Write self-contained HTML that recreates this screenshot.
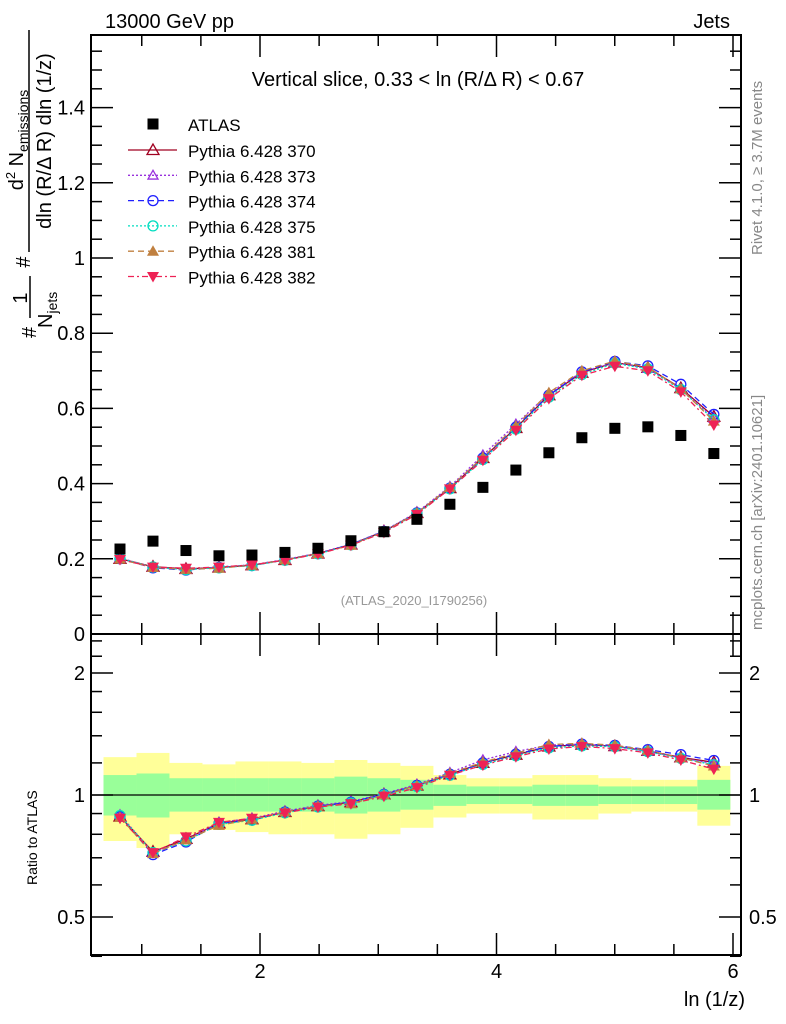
<!DOCTYPE html>
<html><head><meta charset="utf-8"><style>
html,body{margin:0;padding:0;background:#fff;}
svg{display:block;font-family:"Liberation Sans",sans-serif;}
</style></head><body>
<svg id="c" width="786" height="1024" viewBox="0 0 786 1024">
<text x="105" y="28" font-size="20">13000 GeV pp</text>
<text x="730" y="28" font-size="20" text-anchor="end">Jets</text>
<text x="418" y="86" font-size="20" text-anchor="middle">Vertical slice, 0.33 &lt; ln (R/Δ R) &lt; 0.67</text>
<text x="414" y="605" font-size="13" fill="#999" text-anchor="middle">(ATLAS_2020_I1790256)</text>
<text transform="translate(762,255) rotate(-90)" font-size="15" fill="#888">Rivet 4.1.0, ≥ 3.7M events</text>
<text transform="translate(762,630) rotate(-90)" font-size="15" fill="#888">mcplots.cern.ch [arXiv:2401.10621]</text>
<g transform="rotate(-90)" font-size="20">
<text x="-140" y="23" text-anchor="middle">d<tspan font-size="13" dy="-8">2</tspan><tspan dy="8"> N</tspan><tspan font-size="14" dy="5">emissions</tspan></text>
<line x1="-252" x2="-30" y1="29" y2="29" stroke="#000" stroke-width="1.5"/>
<text x="-141" y="51" text-anchor="middle">dln (R/Δ R) dln (1/z)</text>
<text x="-262" y="30" text-anchor="middle">#</text>
<text x="-298" y="27" text-anchor="middle">1</text>
<line x1="-318" x2="-276" y1="30" y2="30" stroke="#000" stroke-width="1.5"/>
<text x="-328" y="52">N<tspan font-size="14" dy="5">jets</tspan></text>
<text x="-338" y="36">#</text>
</g>
<text transform="translate(37,885) rotate(-90)" font-size="14">Ratio to ATLAS</text>
<text x="745" y="1006" font-size="20" text-anchor="end">ln (1/z)</text>
<g id="bands"></g><g id="series"></g><g id="axes"></g><g id="legend"></g>
</svg>
<script>
const xCenters=[0.816,1.095,1.374,1.653,1.932,2.211,2.490,2.769,3.048,3.327,3.606,3.885,4.164,4.443,4.722,5.001,5.280,5.559,5.838];
const atlas=[0.226,0.247,0.222,0.208,0.21,0.217,0.228,0.248,0.272,0.305,0.345,0.39,0.436,0.482,0.522,0.547,0.551,0.528,0.48];
const p370=[0.2,0.179,0.173,0.177,0.183,0.197,0.214,0.238,0.273,0.322,0.388,0.468,0.548,0.635,0.695,0.722,0.708,0.654,0.578];
const p373=[0.202,0.178,0.172,0.178,0.184,0.198,0.215,0.239,0.274,0.324,0.392,0.476,0.558,0.64,0.697,0.722,0.706,0.652,0.574];
const p374=[0.2,0.176,0.17,0.177,0.182,0.197,0.214,0.238,0.273,0.322,0.388,0.468,0.55,0.635,0.697,0.725,0.713,0.664,0.584];
const p375=[0.201,0.178,0.171,0.176,0.182,0.196,0.213,0.237,0.272,0.32,0.386,0.464,0.545,0.63,0.69,0.72,0.705,0.65,0.57];
const p381=[0.199,0.177,0.172,0.175,0.183,0.197,0.214,0.236,0.272,0.322,0.39,0.47,0.553,0.642,0.7,0.726,0.71,0.652,0.566];
const p382=[0.198,0.178,0.175,0.178,0.184,0.196,0.213,0.236,0.27,0.318,0.386,0.462,0.542,0.626,0.688,0.712,0.7,0.644,0.556];
const yelUp=[1.24,1.27,1.2,1.19,1.21,1.21,1.2,1.22,1.2,1.18,1.12,1.1,1.1,1.12,1.12,1.1,1.09,1.09,1.18];
const yelDn=[0.77,0.74,0.8,0.82,0.81,0.8,0.8,0.78,0.8,0.83,0.88,0.9,0.9,0.87,0.87,0.9,0.91,0.91,0.84];
const grnUp=[1.12,1.13,1.1,1.1,1.1,1.1,1.1,1.11,1.1,1.09,1.06,1.05,1.05,1.06,1.06,1.05,1.05,1.05,1.09];
const grnDn=[0.89,0.88,0.91,0.91,0.91,0.91,0.91,0.9,0.91,0.92,0.94,0.95,0.95,0.94,0.94,0.95,0.95,0.95,0.92];
const mainTicks=[0,0.2,0.4,0.6,0.8,1,1.2,1.4];
const mainTickLabels=["0","0.2","0.4","0.6","0.8","1","1.2","1.4"];
const xTicks=[2,4,6];
const ratioTicks=[0.5,1,2];

const NS="http://www.w3.org/2000/svg";
const L=91,R=741,T=35,MB=634,RB=955;
const X=v=>260+(v-2)*118.25;
const YM=v=>634-376*v;
const YR=r=>795-122*Math.log2(r);
const hw=0.1395;
function mk(p,tag,at){const e=document.createElementNS(NS,tag);for(const k in at)e.setAttribute(k,at[k]);p.appendChild(e);return e;}
const bands=document.getElementById('bands'),series=document.getElementById('series'),axes=document.getElementById('axes'),legend=document.getElementById('legend');
xCenters.forEach((c,i)=>{
 const x0=X(c-hw),x1=X(c+hw);
 const y=mk(bands,'rect',{x:x0,y:YR(yelUp[i]),width:x1-x0,height:YR(yelDn[i])-YR(yelUp[i]),fill:'#ffff99'});
 
 
 const g=mk(bands,'rect',{x:x0,y:YR(grnUp[i]),width:x1-x0,height:YR(grnDn[i])-YR(grnUp[i]),fill:'#99ff99'});
 
 
});
mk(bands,'line',{x1:L,x2:R,y1:YR(1),y2:YR(1),stroke:'#000','stroke-width':1.2});
function marker(g,type,x,y,col,s){
 if(type==='sq')return mk(g,'rect',{x:x-5.5,y:y-5.5,width:11,height:11,fill:'#000'});
 if(type==='tri')return mk(g,'polygon',{points:`${x},${y-s} ${x-s},${y+s*0.75} ${x+s},${y+s*0.75}`,fill:'none',stroke:col,'stroke-width':1.3});
 if(type==='ftri')return mk(g,'polygon',{points:`${x},${y-s} ${x-s},${y+s*0.75} ${x+s},${y+s*0.75}`,fill:col});
 if(type==='dtri')return mk(g,'polygon',{points:`${x},${y+s} ${x-s},${y-s*0.75} ${x+s},${y-s*0.75}`,fill:col});
 if(type==='circ')return mk(g,'circle',{cx:x,cy:y,r:s,fill:'none',stroke:col,'stroke-width':1.3});
}
const defs=[
 {n:'370',d:p370,c:'#a00020',dash:'',m:'tri',s:6},
 {n:'373',d:p373,c:'#9932dd',dash:'2,2',m:'tri',s:5},
 {n:'374',d:p374,c:'#2020ff',dash:'6,4',m:'circ',s:5},
 {n:'375',d:p375,c:'#00ddc0',dash:'2,2',m:'circ',s:5},
 {n:'381',d:p381,c:'#c08040',dash:'6,4',m:'ftri',s:6},
 {n:'382',d:p382,c:'#ee2255',dash:'6,3,2,3',m:'dtri',s:6}];
defs.forEach(s=>{
 const g=mk(series,'g',{});
 
 
 const pm=xCenters.map((c,i)=>X(c)+','+YM(s.d[i])).join(' ');
 const pr=xCenters.map((c,i)=>X(c)+','+YR(s.d[i]/atlas[i])).join(' ');
 mk(g,'polyline',{points:pm,fill:'none',stroke:s.c,'stroke-width':1.3,'stroke-dasharray':s.dash});
 mk(g,'polyline',{points:pr,fill:'none',stroke:s.c,'stroke-width':1.3,'stroke-dasharray':s.dash});
 xCenters.forEach((c,i)=>{
  const a=marker(g,s.m,X(c),YM(s.d[i]),s.c,s.s);
  
  
  const b=marker(g,s.m,X(c),YR(s.d[i]/atlas[i]),s.c,s.s);
  
  
 });
});
const ga=mk(series,'g',{});


xCenters.forEach((c,i)=>{
 const a=marker(ga,'sq',X(c),YM(atlas[i]));
 
 
});
mk(axes,'rect',{x:L,y:T,width:R-L,height:MB-T,fill:'none',stroke:'#000','stroke-width':2});
mk(axes,'rect',{x:L,y:MB,width:R-L,height:RB-MB,fill:'none',stroke:'#000','stroke-width':2});
for(let v=0;v<=1.58;v+=0.05){const y=YM(v);if(y<T)break;const maj=Math.abs(v/0.2-Math.round(v/0.2))<1e-6;const l=maj?22:11;
 mk(axes,'line',{x1:L,x2:L+l,y1:y,y2:y,stroke:'#000','stroke-width':1.5});mk(axes,'line',{x1:R,x2:R-l,y1:y,y2:y,stroke:'#000','stroke-width':1.5});}
mainTicks.forEach((v,i)=>{const t=mk(axes,'text',{x:L-6,y:YM(v)+7,'font-size':20,'text-anchor':'end'});t.textContent=mainTickLabels[i];
 
 });
for(let v=1;v<=6.01;v+=0.5){const x=X(v);const maj=Math.abs(v-Math.round(v/2)*2)<1e-6;const l=maj?22:11;
 [T,MB].forEach(t=>mk(axes,'line',{x1:x,x2:x,y1:t,y2:t+l,stroke:'#000','stroke-width':1.5}));
 [MB,RB].forEach(b=>mk(axes,'line',{x1:x,x2:x,y1:b,y2:b-l,stroke:'#000','stroke-width':1.5}));}
xTicks.forEach(v=>{const t=mk(axes,'text',{x:X(v),y:978,'font-size':20,'text-anchor':'middle'});t.textContent=v;
 
 });
[0.4,0.5,0.6,0.7,0.8,0.9,1,1.2,1.4,1.6,1.8,2,2.2,2.4].forEach(v=>{const y=YR(v);const maj=ratioTicks.includes(v);const l=maj?22:11;
 mk(axes,'line',{x1:L,x2:L+l,y1:y,y2:y,stroke:'#000','stroke-width':1.5});mk(axes,'line',{x1:R,x2:R-l,y1:y,y2:y,stroke:'#000','stroke-width':1.5});});
ratioTicks.forEach(v=>{const t=mk(axes,'text',{x:L-6,y:YR(v)+7,'font-size':20,'text-anchor':'end'});t.textContent=v;
 
 
 const t2=mk(axes,'text',{x:R+8,y:YR(v)+7,'font-size':20});t2.textContent=v;
 
 });
const le=mk(legend,'g',{});


marker(le,'sq',153,124);
const lt=mk(le,'text',{x:188,y:131,'font-size':17});lt.textContent='ATLAS';
defs.forEach((s,i)=>{const y=150+i*25.3;const g=mk(legend,'g',{});
 
 
 mk(g,'line',{x1:128,x2:177,y1:y,y2:y,stroke:s.c,'stroke-width':1.3,'stroke-dasharray':s.dash});
 marker(g,s.m,153,y,s.c,s.s);
 const t=mk(g,'text',{x:188,y:y+7,'font-size':17});t.textContent='Pythia 6.428 '+s.n;});
</script>
</body></html>
